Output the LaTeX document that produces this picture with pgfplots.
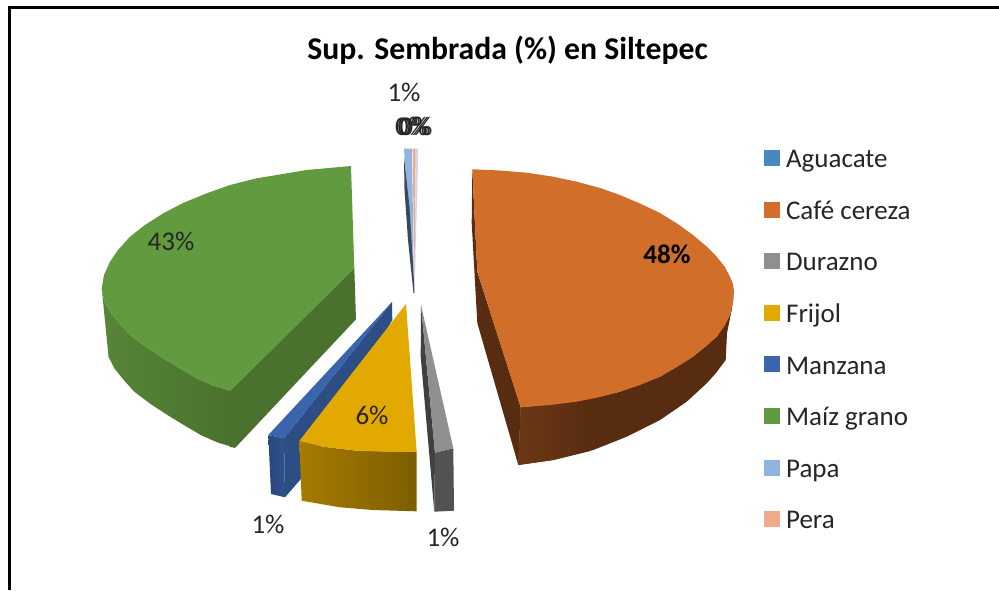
\documentclass[border=0pt]{standalone}
\usepackage{fontspec}
\setmainfont{Carlito}
\usepackage{pgfplots}
\pgfplotsset{compat=1.18}
\definecolor{cAgu}{HTML}{4A86BF}
\definecolor{cCafe}{HTML}{D06E2A}
\definecolor{cDur}{HTML}{8F8F8F}
\definecolor{cFri}{HTML}{E2A900}
\definecolor{cMan}{HTML}{3A64AB}
\definecolor{cMai}{HTML}{629A3F}
\definecolor{cPapa}{HTML}{8FB4E0}
\definecolor{cPera}{HTML}{F0A98A}
\definecolor{wallCafe}{HTML}{572C10}
\definecolor{wallCafeL}{HTML}{6C3816}
\definecolor{wallMaiL}{HTML}{578538}
\definecolor{wallMaiR}{HTML}{4A712D}
\newcommand{\lab}{\fontsize{27}{27}\selectfont}
\begin{document}
\begin{tikzpicture}
\begin{axis}[
  scale only axis, width=999pt, height=590pt,
  xmin=0, xmax=999, ymin=0, ymax=590, y dir=reverse,
  axis lines=none, clip=true,
  legend cell align=left,
  legend image code/.code={\fill[#1] (0pt,-2pt) rectangle (15pt,13pt);},
  legend style={at={(axis cs:764,149.5)}, anchor=north west, draw=none, fill=none,
    font=\lab, text=black!85, inner sep=0pt, row sep=24.6pt, column sep=6.5pt,
    nodes={inner sep=0pt, text height=18pt, text depth=9pt}},
]
\addplot[fill=white, draw=none, forget plot] coordinates {(0,0)(999,0)(999,590)(0,590)} --cycle;
\addplot[black, line width=2.5pt, forget plot] coordinates {(9.3,590)(9.3,7.3)(999,7.3)};
% slivers at the top
\addplot[fill=cPapa, draw=none, forget plot] coordinates {(404,148.7)(412,148.7)(414,293)} --cycle;
\addplot[fill=cPera, draw=none, forget plot] coordinates {(412.7,148.7)(415.7,148.7)(414.3,293)} --cycle;
\addplot[fill=cPapa!50!white, draw=none, forget plot] coordinates {(415.7,148.7)(418.3,148.7)(414.6,293)} --cycle;
\addplot[fill=black!60!cPapa, draw=none, forget plot] coordinates {(404,157)(404.5,190)(408,240)(413.5,293)(414.5,293)(413,265)(409.5,207)} --cycle;
% Maiz grano
\addplot[draw=none, left color=wallMaiL, right color=wallMaiR, forget plot] coordinates {(101.7,288.3)(104,300)(110,311.7)(120,324)(130,335)(146,347)(163.3,358.3)(180,368.5)(196.7,378.3)(213,385.5)(230.7,390.7)(235.3,447.7)(217.6,442.5)(201.3,435.3)(184.6,425.5)(167.9,415.3)(150.6,404)(134.6,392)(124.6,381)(114.6,368.7)(108.6,357)} --cycle;
\addplot[fill=wallMaiR, draw=none, forget plot] coordinates {(354.3,268.3)(356,319.3)(235.3,447.7)(229.5,447)(229.5,390.7)} --cycle;
\addplot[fill=cMai, draw=none, forget plot] coordinates {(351,166)(306.7,170)(256.7,178.3)(230,185)(206.7,193.3)(183,203)(163.3,213.3)(145,225)(130,236.7)(118,250)(110,261.7)(104,275)(101.7,288.3)(104,300)(110,311.7)(120,324)(130,335)(146,347)(163.3,358.3)(180,368.5)(196.7,378.3)(213,385.5)(230.7,390.7)(354.3,268.3)} --cycle;
% Manzana
\addplot[draw=none, left color=cMan!72!black, right color=cMan!82!black, forget plot] coordinates {(268.3,435)(284,438.3)(285,497.3)(271,494)} --cycle;
\addplot[fill=cMan!78!black, draw=none, forget plot] coordinates {(284,438.3)(392,302)(392.3,320)(300,480)(285,497.3)} --cycle;
\addplot[fill=cMan, draw=none, forget plot] coordinates {(392,302)(268.3,435)(284,438.3)} --cycle;
% Frijol
\addplot[draw=none, left color=cFri!73!black, right color=cFri!55!black, forget plot] coordinates {(299.3,441)(323.3,446.7)(356.7,450.7)(416.7,452)(416.7,511.3)(373,510)(340,507.3)(301.7,500.7)} --cycle;
\addplot[fill=cFri, draw=none, forget plot] coordinates {(406,304)(299.3,441)(323.3,446.7)(356.7,450.7)(385,451.8)(416.7,452)} --cycle;
% Durazno
\addplot[fill=black!75, draw=none, forget plot] coordinates {(421,305)(420.7,356.7)(434.3,511.7)(435,452.7)} --cycle;
\addplot[fill=black!68, draw=none, forget plot] coordinates {(435,452.7)(453.3,448.3)(454,510.7)(434.3,511.7)} --cycle;
\addplot[fill=cDur, draw=none, forget plot] coordinates {(421,305)(453.3,448.3)(435,452.7)} --cycle;
% Cafe cereza
\addplot[fill=wallCafe, draw=none, forget plot] coordinates {(472.3,169.3)(471.7,223)(477.3,323)(518.3,465)(520.7,407.3)(477.3,271.7)} --cycle;
\addplot[fill=wallCafe, draw=none, forget plot] coordinates {(520.7,407.3)(576.7,401.7)(620,391.7)(660,376.7)(693,356.7)(716.7,336.7)(730,315)(734,291.7)(731.7,310)(727,333)(725.7,360)(716,373)(706.7,383.3)(686.7,401.7)(660,420)(626.7,436.7)(593.3,450)(553.3,460)(518.3,465)} --cycle;
\addplot[draw=none, left color=wallCafeL, right color=wallCafe, forget plot] coordinates {(520.7,407.3)(550,405)(590,399)(590,451)(553.3,460)(518.3,465)} --cycle;
\addplot[fill=cCafe, draw=none, forget plot] coordinates {(472.3,169.3)(500,170.5)(526.7,172.7)(552,176.5)(576.7,181.7)(600,188)(620,195)(640,203.5)(660,213)(677,223.5)(693,235)(706,246)(716.7,256.7)(724.5,266.5)(730,276.7)(733,284)(734,291.7)(733,303)(730,315)(724.5,326)(716.7,336.7)(706,346.5)(693,356.7)(677,367)(660,376.7)(640,385)(620,391.7)(600,397)(576.7,401.7)(550,405)(520.7,407.3)(477.3,271.7)} --cycle;
% text
\node[font=\fontsize{31.7}{32}\selectfont\bfseries] at (axis cs:507.5,50) {Sup. Sembrada (\%) en Siltepec};
\node[font=\lab, text=black!85] at (axis cs:404,92) {1\%};
\node[font=\lab, text=black!85] at (axis cs:411.5,126.5) {0\%};
\node[font=\lab, text=black!85] at (axis cs:414,126.5) {0\%};
\node[font=\lab, text=black!85] at (axis cs:416,126.5) {0\%};
\node[font=\lab\bfseries] at (axis cs:667,254) {48\%};
\node[font=\lab, text=black!85] at (axis cs:171,241) {43\%};
\node[font=\lab, text=black!85] at (axis cs:372,415) {6\%};
\node[font=\lab, text=black!85] at (axis cs:268,524) {1\%};
\node[font=\lab, text=black!85] at (axis cs:443,537) {1\%};
% legend
\addlegendimage{cAgu}\addlegendentry{Aguacate}
\addlegendimage{cCafe}\addlegendentry{Café cereza}
\addlegendimage{cDur}\addlegendentry{Durazno}
\addlegendimage{cFri}\addlegendentry{Frijol}
\addlegendimage{cMan}\addlegendentry{Manzana}
\addlegendimage{cMai}\addlegendentry{Maíz grano}
\addlegendimage{cPapa}\addlegendentry{Papa}
\addlegendimage{cPera}\addlegendentry{Pera}
\end{axis}
\end{tikzpicture}
\end{document}
